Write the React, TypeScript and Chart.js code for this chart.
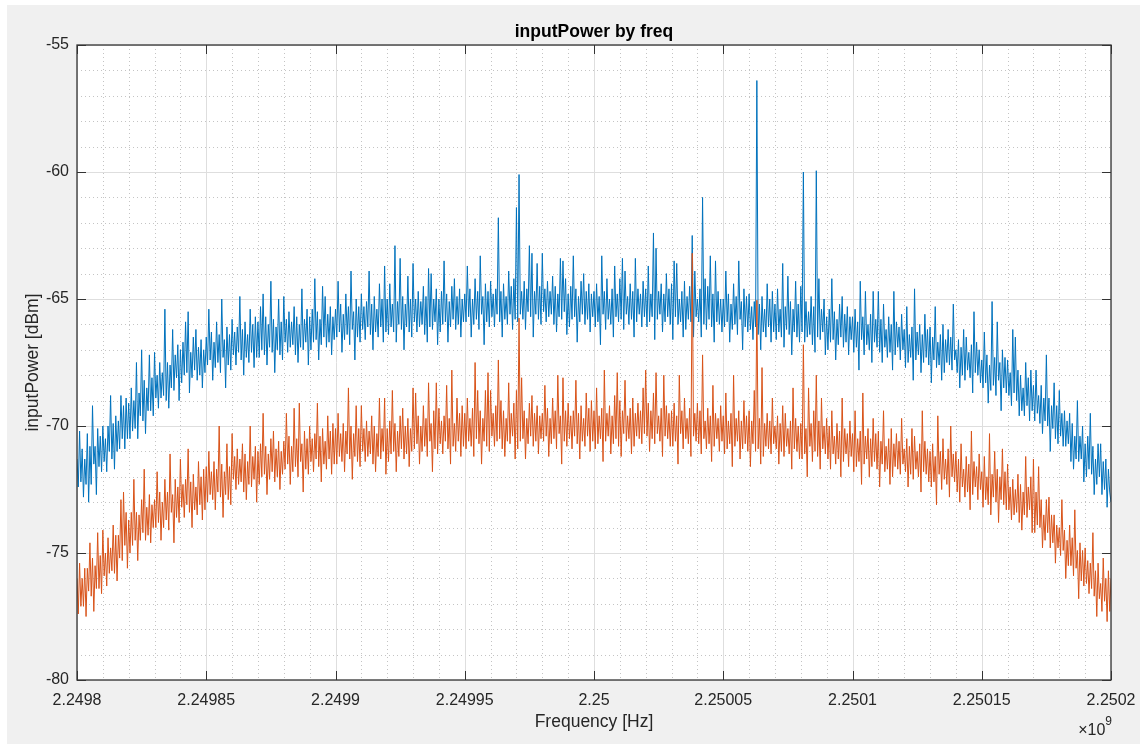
import { useEffect, useRef } from "react";
import { Chart, registerables } from "chart.js";

Chart.register(...registerables);

// Sweep grid: start frequency and bin spacing (Hz)
const FREQ_START_HZ = 2249800000;
const FREQ_STEP_HZ = 500;
const FREQ_MIN = 2249800000;
const FREQ_MAX = 2250200000;

const X_TICK_VALUES = [
  2249800000, 2249850000, 2249900000, 2249950000, 2250000000,
  2250050000, 2250100000, 2250150000, 2250200000,
];
const X_TICK_LABELS = [
  "2.2498", "2.24985", "2.2499", "2.24995", "2.25",
  "2.25005", "2.2501", "2.25015", "2.2502",
];
const Y_TICK_VALUES = [-80, -75, -70, -65, -60, -55];
const Y_TICK_LABELS = ["-80", "-75", "-70", "-65", "-60", "-55"];

// inputPower of channel 1 [dBm], one value per 500 Hz bin (20 bins per row)
const POWER_CH1 = [
  -71.3, -72.4, -70.2, -72.2, -70.9, -72.8, -71.3, -72.3, -70.3, -73.0, -70.8, -72.3, -69.2, -71.5, -70.8, -72.7, -70.1, -71.6, -70.4, -71.8,
  -70.0, -71.4, -70.5, -71.8, -70.0, -71.0, -68.8, -71.3, -69.9, -71.7, -69.6, -71.0, -69.8, -70.9, -68.8, -70.5, -69.2, -70.9, -68.9, -70.5,
  -69.1, -70.5, -68.5, -70.2, -69.0, -70.1, -67.5, -70.5, -68.7, -69.6, -67.0, -69.8, -68.2, -70.3, -68.5, -69.4, -67.2, -69.4, -68.1, -69.6,
  -67.1, -68.9, -68.0, -69.3, -67.5, -68.9, -67.9, -68.8, -65.4, -69.0, -67.5, -69.3, -67.6, -68.5, -66.2, -68.6, -67.2, -68.1, -66.8, -69.0,
  -67.0, -68.3, -66.7, -68.0, -65.9, -67.9, -65.5, -68.7, -67.1, -68.1, -66.5, -67.8, -66.2, -68.2, -66.9, -68.0, -66.6, -68.5, -67.0, -67.9,
  -66.5, -67.6, -65.4, -67.4, -66.3, -68.2, -66.7, -67.7, -65.9, -67.5, -66.4, -67.9, -65.0, -67.3, -66.6, -68.5, -66.1, -67.6, -66.4, -67.8,
  -65.8, -67.2, -66.3, -67.6, -66.1, -67.1, -64.9, -67.4, -66.2, -68.0, -65.9, -67.3, -66.4, -67.5, -65.4, -67.1, -66.0, -67.7, -65.7, -67.3,
  -65.9, -67.3, -65.3, -67.0, -64.8, -67.2, -65.7, -67.6, -66.0, -66.9, -64.3, -67.1, -65.8, -67.9, -66.1, -67.0, -65.0, -67.2, -65.9, -67.4,
  -64.9, -66.7, -65.8, -67.1, -65.5, -66.9, -65.9, -66.8, -65.3, -67.2, -65.7, -67.5, -66.0, -66.9, -64.6, -67.0, -65.8, -66.7, -65.4, -67.6,
  -65.7, -67.0, -65.4, -66.7, -64.2, -66.6, -65.5, -67.4, -65.8, -66.8, -64.5, -66.5, -64.9, -66.9, -65.6, -66.7, -65.3, -67.2, -65.7, -66.6,
  -65.4, -66.5, -64.3, -66.3, -65.2, -67.1, -65.6, -66.6, -64.8, -66.4, -65.3, -66.8, -63.9, -66.2, -65.5, -67.4, -65.0, -66.5, -65.3, -66.7,
  -64.8, -66.2, -65.3, -66.6, -65.1, -66.1, -63.9, -66.4, -65.2, -67.0, -64.9, -66.3, -65.4, -66.5, -64.4, -66.1, -65.0, -66.7, -63.7, -66.3,
  -65.0, -66.4, -64.4, -66.1, -65.2, -66.3, -62.9, -66.7, -65.1, -66.0, -63.4, -66.2, -64.9, -67.0, -65.2, -66.1, -64.1, -66.3, -65.0, -66.5,
  -63.6, -65.9, -65.0, -66.3, -64.7, -66.1, -65.1, -66.0, -64.5, -66.4, -64.9, -66.7, -63.8, -66.1, -64.0, -66.2, -65.0, -65.9, -64.6, -66.8,
  -65.0, -66.3, -64.7, -66.0, -63.5, -65.9, -64.8, -66.7, -65.1, -66.1, -64.5, -65.8, -64.2, -66.2, -64.9, -66.0, -64.6, -66.5, -65.0, -65.9,
  -64.8, -65.9, -63.7, -65.7, -64.6, -66.5, -65.0, -66.0, -64.2, -65.8, -64.7, -66.2, -63.3, -65.6, -64.9, -66.8, -64.4, -65.9, -64.7, -66.1,
  -64.3, -65.7, -64.8, -66.1, -64.6, -65.6, -61.8, -65.9, -64.7, -66.5, -64.4, -65.8, -64.9, -66.0, -63.9, -65.6, -64.5, -66.2, -64.2, -65.8,
  -61.4, -65.9, -60.1, -65.6, -64.7, -65.8, -64.3, -66.2, -64.6, -65.5, -62.9, -65.7, -63.2, -66.5, -64.7, -65.6, -63.6, -65.8, -64.5, -66.0,
  -63.2, -65.5, -64.6, -65.9, -64.3, -65.7, -64.7, -65.6, -64.1, -66.0, -64.5, -66.3, -64.8, -65.7, -63.4, -65.8, -63.5, -65.5, -64.2, -66.4,
  -64.8, -66.1, -64.5, -65.8, -63.3, -65.7, -64.6, -66.7, -64.9, -65.9, -64.3, -65.6, -64.0, -66.0, -64.7, -65.8, -64.4, -66.3, -64.8, -65.7,
  -64.7, -66.1, -64.4, -65.9, -64.9, -66.8, -63.3, -65.6, -64.7, -66.2, -64.2, -65.8, -65.0, -66.0, -64.6, -66.5, -63.7, -65.7, -64.8, -65.9,
  -64.2, -65.8, -63.4, -66.2, -63.9, -65.6, -64.9, -66.0, -64.4, -65.8, -64.7, -66.5, -63.4, -65.9, -64.6, -65.6, -64.8, -66.1, -64.3, -65.7,
  -64.6, -66.1, -63.7, -65.9, -64.8, -65.7, -62.4, -66.6, -63.0, -65.8, -64.7, -65.6, -64.4, -66.3, -64.8, -65.9, -64.0, -65.7, -64.6, -66.0,
  -64.4, -66.6, -63.5, -65.7, -63.6, -66.0, -65.0, -65.9, -64.7, -66.5, -64.3, -66.2, -64.9, -65.8, -64.5, -65.9, -62.5, -66.5, -63.9, -65.7,
  -65.0, -65.9, -64.6, -66.5, -61.0, -66.0, -64.2, -66.2, -64.5, -65.8, -63.3, -66.1, -64.8, -66.7, -63.5, -65.9, -64.7, -66.0, -65.0, -66.3,
  -65.0, -66.1, -63.9, -65.9, -64.8, -66.7, -65.2, -66.2, -64.4, -66.0, -64.9, -66.4, -63.5, -65.8, -65.1, -67.0, -64.6, -66.1, -64.9, -66.3,
  -64.8, -66.2, -65.3, -66.6, -65.1, -66.1, -56.4, -66.4, -65.2, -67.0, -64.9, -66.3, -65.4, -66.5, -64.4, -66.1, -65.0, -66.7, -64.7, -66.3,
  -65.2, -66.6, -64.6, -66.3, -65.4, -66.5, -63.6, -66.9, -65.3, -66.2, -64.1, -66.4, -65.1, -67.2, -65.4, -66.3, -64.3, -66.5, -65.2, -66.7,
  -64.5, -66.3, -60.0, -66.7, -65.1, -66.5, -65.5, -66.4, -64.9, -66.8, -65.3, -67.1, -59.95, -66.5, -64.2, -66.6, -65.4, -66.3, -65.0, -67.2,
  -65.7, -67.0, -65.4, -66.7, -64.2, -66.6, -65.5, -67.4, -65.8, -66.8, -65.2, -66.5, -64.9, -66.9, -65.6, -66.7, -65.3, -67.2, -65.7, -66.6,
  -65.7, -67.1, -65.4, -66.9, -65.9, -67.8, -64.3, -66.6, -65.7, -67.2, -64.7, -66.8, -66.0, -67.0, -65.6, -67.5, -64.7, -66.7, -65.8, -66.9,
  -64.7, -67.1, -65.8, -67.5, -65.2, -66.9, -66.2, -67.3, -65.7, -67.1, -66.0, -67.8, -64.7, -67.2, -65.9, -66.9, -66.1, -67.4, -65.6, -67.0,
  -66.2, -67.7, -65.3, -67.5, -66.4, -67.3, -66.1, -68.2, -64.6, -67.4, -66.3, -67.2, -66.0, -67.9, -66.4, -67.5, -65.6, -67.3, -66.2, -67.6,
  -66.1, -68.3, -66.5, -67.4, -65.3, -67.7, -66.7, -67.6, -66.4, -68.2, -66.0, -67.9, -66.6, -67.5, -66.2, -67.6, -66.5, -67.8, -65.2, -67.4,
  -67.0, -67.9, -66.6, -68.5, -66.9, -68.0, -66.2, -68.2, -66.5, -67.8, -67.1, -68.1, -66.8, -68.7, -65.5, -67.9, -66.7, -68.0, -67.0, -68.3,
  -67.4, -68.5, -66.3, -68.3, -67.2, -69.1, -67.6, -68.6, -65.1, -68.4, -67.3, -68.8, -65.9, -68.2, -67.5, -69.4, -67.0, -68.5, -67.3, -68.7,
  -67.4, -68.8, -67.9, -69.2, -66.2, -68.7, -66.5, -69.0, -67.8, -69.6, -68.0, -69.4, -68.5, -69.6, -67.5, -69.2, -68.1, -69.8, -67.8, -69.4,
  -68.4, -69.8, -67.8, -69.5, -68.8, -69.9, -68.4, -70.3, -68.9, -69.8, -67.2, -70.0, -68.9, -71.0, -69.2, -70.1, -68.3, -70.5, -69.2, -70.7,
  -68.6, -70.4, -69.5, -70.8, -69.4, -70.8, -69.8, -70.7, -69.5, -71.4, -69.9, -71.7, -70.4, -71.3, -69.0, -71.4, -70.4, -71.3, -70.0, -72.2,
  -70.7, -72.0, -70.4, -71.7, -69.5, -71.9, -70.8, -72.7, -71.3, -72.3, -70.7, -72.0, -70.7, -72.7, -71.4, -72.5, -71.3, -73.2, -71.7, -72.6, -73.0,
];

// inputPower of channel 2 [dBm], one value per 500 Hz bin (20 bins per row)
const POWER_CH2 = [
  -76.0, -77.4, -75.4, -77.1, -76.0, -77.1, -75.6, -77.5, -75.6, -76.5, -74.6, -76.7, -75.2, -77.3, -75.5, -76.4, -74.2, -76.4, -75.1, -76.6,
  -74.1, -75.9, -75.0, -76.3, -74.4, -75.8, -74.8, -75.7, -73.9, -75.8, -74.3, -76.1, -74.3, -75.2, -72.9, -75.3, -72.6, -74.7, -73.4, -75.6,
  -73.7, -75.0, -73.4, -74.7, -72.1, -74.5, -73.4, -75.3, -73.5, -74.5, -72.9, -74.2, -71.7, -74.5, -73.2, -74.3, -72.7, -74.6, -73.1, -74.0,
  -72.9, -74.0, -71.8, -73.8, -72.6, -74.5, -73.0, -74.0, -72.1, -73.7, -72.6, -74.1, -71.1, -73.4, -72.7, -74.6, -72.1, -73.6, -72.4, -73.8,
  -71.3, -73.2, -72.3, -73.6, -72.1, -73.1, -70.9, -73.4, -72.2, -74.0, -71.9, -73.3, -72.4, -73.5, -71.4, -73.1, -72.0, -73.7, -71.7, -73.3,
  -71.6, -73.0, -71.0, -72.7, -71.8, -72.9, -71.4, -73.3, -71.7, -72.6, -70.0, -72.8, -71.5, -73.6, -71.8, -72.7, -70.7, -72.9, -71.6, -73.1,
  -70.3, -72.1, -71.2, -72.5, -70.9, -72.3, -71.3, -72.2, -70.7, -72.6, -71.1, -72.9, -71.4, -72.3, -70.0, -72.4, -71.2, -72.1, -70.8, -73.0,
  -71.0, -72.3, -70.7, -72.0, -69.5, -71.9, -70.8, -72.7, -71.1, -72.1, -70.5, -71.8, -70.2, -72.2, -70.9, -72.0, -70.6, -72.5, -71.0, -71.9,
  -70.6, -71.7, -69.5, -71.5, -70.4, -72.3, -70.8, -71.8, -69.3, -71.6, -70.5, -72.0, -69.1, -71.4, -70.7, -72.6, -70.2, -71.7, -70.5, -71.9,
  -70.0, -71.4, -70.5, -71.8, -70.3, -71.3, -69.1, -71.6, -70.4, -72.2, -70.1, -71.5, -70.6, -71.7, -69.6, -71.3, -70.2, -71.9, -69.9, -71.5,
  -70.1, -71.5, -69.5, -71.2, -70.3, -71.4, -69.9, -71.8, -70.2, -71.1, -68.5, -71.3, -70.0, -72.1, -70.3, -71.2, -69.2, -71.4, -70.1, -71.6,
  -69.2, -71.0, -70.1, -71.4, -69.8, -71.2, -70.2, -71.1, -69.6, -71.5, -70.0, -71.8, -70.3, -71.2, -68.9, -71.3, -70.1, -71.0, -68.9, -71.9,
  -70.1, -71.4, -69.8, -71.1, -68.6, -71.0, -69.9, -71.8, -70.2, -71.2, -69.6, -70.9, -69.3, -71.3, -70.0, -71.1, -69.7, -71.6, -70.1, -71.0,
  -68.5, -70.9, -68.7, -70.7, -69.6, -71.5, -70.0, -71.0, -69.2, -70.8, -69.7, -71.2, -68.3, -70.6, -69.9, -71.8, -69.4, -70.9, -68.3, -71.1,
  -69.3, -70.7, -69.8, -71.1, -69.6, -70.6, -68.4, -70.9, -69.7, -71.5, -67.8, -70.8, -69.9, -71.0, -68.9, -70.6, -69.5, -71.2, -69.2, -70.8,
  -69.5, -70.9, -68.9, -70.6, -69.7, -70.8, -69.3, -71.2, -67.5, -70.5, -68.6, -70.7, -69.4, -71.5, -69.7, -70.6, -68.6, -70.8, -67.9, -71.0,
  -68.6, -70.4, -69.5, -70.8, -69.2, -70.6, -67.4, -70.5, -69.0, -70.9, -69.4, -71.2, -69.7, -70.6, -68.3, -70.7, -69.5, -70.4, -69.1, -71.3,
  -68.6, -70.9, -65.75, -70.6, -68.1, -70.5, -69.4, -71.3, -69.7, -70.7, -69.1, -70.4, -68.8, -70.8, -69.5, -70.6, -69.2, -71.1, -69.6, -70.5,
  -69.5, -70.6, -68.4, -70.4, -69.3, -71.2, -69.7, -70.7, -68.9, -70.5, -69.4, -70.9, -68.0, -70.3, -69.6, -71.5, -68.1, -70.6, -69.4, -70.8,
  -69.1, -70.5, -69.6, -70.9, -69.4, -70.4, -68.2, -70.7, -69.5, -71.3, -69.2, -70.6, -69.7, -70.8, -68.7, -70.4, -69.3, -71.0, -69.0, -70.6,
  -69.4, -70.9, -68.5, -70.7, -69.6, -70.5, -69.3, -71.4, -67.8, -70.6, -69.5, -70.4, -69.2, -71.1, -69.6, -70.7, -68.8, -70.5, -67.9, -70.8,
  -69.0, -71.2, -69.4, -70.3, -68.2, -70.6, -69.6, -70.5, -69.3, -71.1, -68.9, -70.8, -69.5, -70.4, -69.1, -70.5, -69.4, -70.7, -68.5, -70.3,
  -67.8, -70.4, -69.1, -71.0, -69.4, -70.5, -68.7, -70.7, -67.9, -70.3, -69.6, -70.6, -69.3, -71.2, -68.0, -70.4, -69.2, -70.5, -69.5, -70.8,
  -69.4, -70.8, -69.1, -70.6, -69.6, -71.5, -68.0, -70.3, -69.4, -70.9, -68.9, -70.5, -69.7, -70.7, -69.3, -71.2, -63.2, -70.4, -69.5, -70.6,
  -69.1, -70.7, -69.4, -71.1, -67.2, -70.5, -69.8, -70.9, -69.3, -70.7, -69.6, -71.4, -68.4, -70.8, -69.5, -70.5, -69.7, -71.0, -69.2, -70.6,
  -69.6, -71.1, -68.7, -70.9, -69.8, -70.7, -69.5, -71.6, -68.0, -70.8, -69.7, -70.6, -69.4, -71.3, -69.8, -70.9, -69.0, -70.7, -69.6, -71.0,
  -69.4, -71.6, -69.8, -70.7, -68.6, -71.0, -65.05, -70.9, -69.7, -71.5, -67.7, -71.2, -69.9, -70.8, -69.5, -70.9, -69.8, -71.1, -68.9, -70.7,
  -70.0, -70.9, -69.6, -71.5, -69.9, -71.0, -69.2, -71.2, -69.5, -70.8, -70.1, -71.1, -69.8, -71.7, -68.5, -70.9, -69.7, -71.0, -70.0, -71.3,
  -69.9, -71.3, -66.8, -71.1, -70.1, -72.0, -68.5, -70.8, -69.9, -71.4, -69.4, -71.0, -68.0, -71.2, -69.8, -71.7, -68.9, -70.9, -70.0, -71.1,
  -69.7, -71.3, -70.0, -71.7, -69.4, -71.1, -70.4, -71.5, -69.9, -71.3, -70.2, -72.0, -68.9, -71.4, -70.1, -71.1, -70.3, -71.6, -69.8, -71.2,
  -70.3, -71.8, -69.4, -71.6, -70.5, -71.4, -70.2, -72.3, -68.7, -71.5, -70.4, -71.3, -70.1, -72.0, -70.5, -71.6, -69.7, -71.4, -70.3, -71.7,
  -70.2, -72.4, -70.6, -71.5, -69.4, -71.8, -70.8, -71.7, -70.5, -72.3, -70.1, -72.0, -70.7, -71.6, -70.3, -71.7, -70.6, -71.9, -69.7, -71.5,
  -70.9, -71.8, -70.5, -72.4, -70.8, -71.9, -70.1, -72.1, -70.4, -71.7, -71.0, -72.0, -70.7, -72.6, -69.4, -71.8, -70.6, -71.9, -70.9, -72.2,
  -71.0, -72.4, -70.7, -72.2, -71.2, -73.1, -69.6, -71.9, -71.0, -72.5, -70.5, -72.1, -71.3, -72.3, -70.9, -72.8, -70.0, -72.0, -71.1, -72.2,
  -71.0, -72.6, -71.3, -73.0, -70.7, -72.4, -71.7, -72.8, -71.2, -72.6, -71.5, -73.3, -70.2, -72.7, -71.4, -72.4, -71.6, -72.9, -71.1, -72.5,
  -71.8, -73.2, -71.2, -72.9, -72.0, -73.1, -70.3, -73.5, -71.9, -72.8, -71.0, -73.0, -71.7, -73.8, -72.0, -72.9, -70.9, -73.1, -71.8, -73.3,
  -71.5, -73.3, -72.4, -73.7, -72.1, -73.5, -72.5, -73.4, -71.9, -73.8, -72.3, -74.1, -72.6, -73.5, -71.2, -73.6, -72.4, -73.3, -72.0, -74.2,
  -71.3, -74.2, -72.6, -73.9, -71.6, -74.0, -72.9, -74.8, -73.5, -74.5, -72.9, -74.2, -72.8, -74.8, -73.5, -74.6, -73.5, -75.4, -73.9, -74.8,
  -74.0, -75.1, -72.9, -74.9, -74.1, -76.0, -74.5, -75.5, -73.9, -75.5, -74.4, -75.9, -73.3, -75.6, -74.9, -76.8, -74.6, -76.1, -74.9, -76.3,
  -74.8, -76.2, -75.3, -76.6, -75.4, -76.4, -74.2, -76.7, -75.7, -77.5, -75.4, -76.8, -76.2, -77.3, -75.2, -76.9, -76.0, -77.7, -75.7, -77.3, -76.0,
];

const TITLE = "inputPower by freq";
const X_LABEL = "Frequency [Hz]";
const Y_LABEL = "inputPower [dBm]";

const FONT = '"Liberation Sans", Arial, Helvetica, sans-serif';
const TEXT_COLOR = "#262626";
const BLUE = "#0072BD";
const ORANGE = "#D95319";

const toPoints = (values: number[]) =>
  values.map((y, i) => ({ x: FREQ_START_HZ + i * FREQ_STEP_HZ, y }));

// Grid (major + dotted minor), box, inward ticks, title and exponent
const axesDecor = {
  id: "axesDecor",
  beforeDraw(chart: any) {
    const { ctx, chartArea: a, width, height } = chart;
    ctx.save();
    ctx.fillStyle = "#f0f0f0";
    ctx.fillRect(0, 0, width, height);
    ctx.fillStyle = "#ffffff";
    ctx.fillRect(a.left, a.top, a.right - a.left, a.bottom - a.top);
    ctx.restore();
  },
  beforeDatasetsDraw(chart: any) {
    const { ctx, chartArea: a, scales } = chart;
    const xs = scales.x;
    const ys = scales.y;
    ctx.save();
    // minor grid
    ctx.strokeStyle = "#c4c4c4";
    ctx.lineWidth = 1;
    ctx.setLineDash([1, 3]);
    for (let f = FREQ_MIN; f <= FREQ_MAX; f += 10000) {
      if ((f - FREQ_MIN) % 50000 === 0) continue;
      const px = Math.round(xs.getPixelForValue(f)) + 0.5;
      ctx.beginPath();
      ctx.moveTo(px, a.top);
      ctx.lineTo(px, a.bottom);
      ctx.stroke();
    }
    for (let v = -80; v <= -55; v += 1) {
      if (v % 5 === 0) continue;
      const py = Math.round(ys.getPixelForValue(v)) + 0.5;
      ctx.beginPath();
      ctx.moveTo(a.left, py);
      ctx.lineTo(a.right, py);
      ctx.stroke();
    }
    // major grid
    ctx.setLineDash([]);
    ctx.strokeStyle = "#dedede";
    X_TICK_VALUES.forEach((f) => {
      const px = Math.round(xs.getPixelForValue(f)) + 0.5;
      ctx.beginPath();
      ctx.moveTo(px, a.top);
      ctx.lineTo(px, a.bottom);
      ctx.stroke();
    });
    Y_TICK_VALUES.forEach((v) => {
      const py = Math.round(ys.getPixelForValue(v)) + 0.5;
      ctx.beginPath();
      ctx.moveTo(a.left, py);
      ctx.lineTo(a.right, py);
      ctx.stroke();
    });
    ctx.restore();
  },
  afterDatasetsDraw(chart: any) {
    const { ctx, chartArea: a, scales } = chart;
    const xs = scales.x;
    const ys = scales.y;
    const tick = 9;
    ctx.save();
    ctx.strokeStyle = "#333333";
    ctx.lineWidth = 1.3;
    ctx.strokeRect(a.left, a.top, a.right - a.left, a.bottom - a.top);
    ctx.lineWidth = 1;
    ctx.beginPath();
    X_TICK_VALUES.forEach((f) => {
      const px = Math.round(xs.getPixelForValue(f)) + 0.5;
      ctx.moveTo(px, a.bottom);
      ctx.lineTo(px, a.bottom - tick);
      ctx.moveTo(px, a.top);
      ctx.lineTo(px, a.top + tick);
    });
    Y_TICK_VALUES.forEach((v) => {
      const py = Math.round(ys.getPixelForValue(v)) + 0.5;
      ctx.moveTo(a.left, py);
      ctx.lineTo(a.left + tick, py);
      ctx.moveTo(a.right, py);
      ctx.lineTo(a.right - tick, py);
    });
    ctx.stroke();

    // title
    ctx.fillStyle = "#000000";
    ctx.font = `bold 17.5px ${FONT}`;
    ctx.textAlign = "center";
    ctx.textBaseline = "middle";
    ctx.fillText(TITLE, (a.left + a.right) / 2, a.top - 13);

    // exponent of the frequency axis
    ctx.fillStyle = TEXT_COLOR;
    ctx.textAlign = "right";
    ctx.textBaseline = "alphabetic";
    ctx.font = `12px ${FONT}`;
    ctx.fillText("9", a.right + 1, a.bottom + 45);
    const w9 = ctx.measureText("9").width;
    ctx.font = `16px ${FONT}`;
    ctx.fillText("\u00d710", a.right + 1 - w9, a.bottom + 55);
    ctx.restore();
  },
};

export default function App() {
  const canvasRef = useRef<HTMLCanvasElement | null>(null);

  useEffect(() => {
    document.body.style.margin = "0";
    const canvas = canvasRef.current;
    if (!canvas) return;
    const chart = new Chart(canvas, {
      type: "line",
      data: {
        datasets: [
          {
            label: "channel 1",
            data: toPoints(POWER_CH1),
            borderColor: BLUE,
            borderWidth: 1,
            pointRadius: 0,
            tension: 0,
            order: 1,
          },
          {
            label: "channel 2",
            data: toPoints(POWER_CH2),
            borderColor: ORANGE,
            borderWidth: 1,
            pointRadius: 0,
            tension: 0,
            order: 0,
          },
        ],
      },
      options: {
        animation: false,
        responsive: false,
        devicePixelRatio: 1,
        layout: { padding: { top: 40, right: 29, left: 0, bottom: 0 } },
        plugins: {
          legend: { display: false },
          title: { display: false },
          tooltip: { enabled: false },
        },
        scales: {
          x: {
            type: "linear",
            min: FREQ_MIN,
            max: FREQ_MAX,
            grid: { display: false, drawTicks: false },
            border: { display: false },
            afterBuildTicks: (scale: any) => {
              scale.ticks = X_TICK_VALUES.map((value) => ({ value }));
            },
            afterFit: (scale: any) => {
              scale.height = 64;
              scale.paddingLeft = 0;
              scale.paddingRight = 0;
            },
            ticks: {
              autoSkip: false,
              maxRotation: 0,
              padding: 11,
              color: TEXT_COLOR,
              font: { family: FONT, size: 16 },
              callback: (value: any) => {
                const i = X_TICK_VALUES.indexOf(Number(value));
                return i >= 0 ? X_TICK_LABELS[i] : "";
              },
            },
            title: {
              display: true,
              text: X_LABEL,
              color: TEXT_COLOR,
              font: { family: FONT, size: 17.5 },
              padding: { top: 0, bottom: 11 },
            },
          },
          y: {
            type: "linear",
            min: -80,
            max: -55,
            grid: { display: false, drawTicks: false },
            border: { display: false },
            afterBuildTicks: (scale: any) => {
              scale.ticks = Y_TICK_VALUES.map((value) => ({ value }));
            },
            afterFit: (scale: any) => {
              scale.width = 70;
              scale.paddingTop = 0;
              scale.paddingBottom = 0;
            },
            ticks: {
              autoSkip: false,
              padding: 8,
              color: TEXT_COLOR,
              font: { family: FONT, size: 16 },
              callback: (value: any) => {
                const i = Y_TICK_VALUES.indexOf(Number(value));
                return i >= 0 ? Y_TICK_LABELS[i] : "";
              },
            },
            title: {
              display: true,
              text: Y_LABEL,
              color: TEXT_COLOR,
              font: { family: FONT, size: 17.5 },
              padding: { top: 16, bottom: 0 },
            },
          },
        },
      },
      plugins: [axesDecor],
    });
    return () => chart.destroy();
  }, []);

  return (
    <div
      style={{
        position: "relative",
        width: 1140,
        height: 744,
        background: "#ffffff",
        overflow: "hidden",
      }}
    >
      <canvas
        ref={canvasRef}
        width={1133}
        height={739}
        style={{ position: "absolute", left: 7, top: 5, width: 1133, height: 739 }}
      />
    </div>
  );
}
